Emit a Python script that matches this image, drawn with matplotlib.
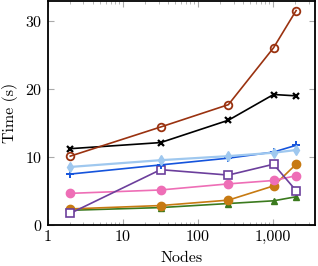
import matplotlib
matplotlib.use("Agg")
import matplotlib.pyplot as plt
from matplotlib.ticker import FuncFormatter, LogLocator, NullFormatter

plt.rcParams['font.family'] = ['cmr10', 'DejaVu Serif']
plt.rcParams['axes.formatter.use_mathtext'] = True
plt.rcParams['mathtext.fontset'] = 'cm'

# данные
nodes = [2, 32, 256, 1024, 2048]
brown = [10.1, 14.4, 17.7, 26.1, 31.6]
black = [11.2, 12.1, 15.4, 19.2, 19.0]
lightblue = [8.5, 9.5, 10.1, 10.6, 11.0]
blue = [7.45, 8.8, 9.8, 10.7, 11.7]
purple = [1.65, 8.1, 7.3, 8.9, 5.0]
pink = [4.6, 5.1, 6.0, 6.5, 7.2]
orange = [2.3, 2.8, 3.6, 5.7, 8.9]
green = [2.1, 2.5, 3.1, 3.5, 4.1]

fig = plt.figure(figsize=(3.18, 2.66), dpi=100)
ax = fig.add_axes([0.150, 0.156, 0.839, 0.840])

lw = 1.2
ax.plot(nodes, green, color='#3b7a1e', lw=lw, marker='^', ms=5, zorder=3)
ax.plot(nodes, orange, color='#c77a12', lw=lw, marker='o', ms=6, zorder=3)
ax.plot(nodes, pink, color='#ee6eb6', lw=lw, marker='o', ms=6, zorder=3)
ax.plot(nodes, purple, color='#6c3f9c', lw=lw, marker='s', ms=5.5, mfc='white', mew=1.2, zorder=3)
ax.plot(nodes, blue, color='#1554dc', lw=lw, marker='+', ms=6, mew=1.4, zorder=3)
ax.plot(nodes, lightblue, color='#9fc8ef', lw=1.6, marker='d', ms=5, zorder=3)
ax.plot(nodes, black, color='black', lw=lw, marker='x', ms=4, mew=1.6, zorder=3)
ax.plot(nodes, brown, color='#9a3210', lw=lw, marker='o', ms=5.5, mfc='none', mew=1.3, zorder=3)

ax.set_xscale('log')
ax.set_xlim(1, 3600)
ax.set_ylim(0, 33)
ax.set_yticks([0, 10, 20, 30])
ax.xaxis.set_major_locator(LogLocator(base=10))
ax.xaxis.set_minor_locator(LogLocator(base=10, subs=range(2, 10)))
ax.xaxis.set_minor_formatter(NullFormatter())
ax.xaxis.set_major_formatter(FuncFormatter(lambda v, p: f'{int(round(v)):,}'))

ax.tick_params(which='both', direction='in', top=True, right=True, color='#aaaaaa',
               labelsize=11.5, pad=4)
ax.tick_params(which='major', length=4, width=0.8)
ax.tick_params(which='minor', length=2.2, width=0.6)
for s in ax.spines.values():
    s.set_linewidth(1.3)

ax.set_xlabel('Nodes', fontsize=11.5, labelpad=5)
ax.set_ylabel('Time (s)', fontsize=11.5, labelpad=5)

fig.savefig('out.png', dpi=100)
